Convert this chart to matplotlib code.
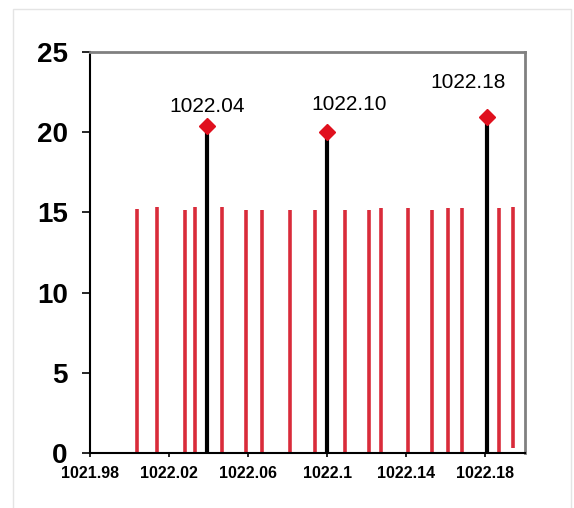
import matplotlib
matplotlib.use("Agg")
import matplotlib.pyplot as plt
from matplotlib.patches import Rectangle

plt.rcParams['font.family'] = ['Liberation Sans', 'DejaVu Sans']

# red stems (m/z, intensity)
red_x = [1022.004, 1022.014, 1022.028, 1022.033, 1022.047, 1022.059,
         1022.067, 1022.081, 1022.094, 1022.109, 1022.121, 1022.127,
         1022.141, 1022.153, 1022.161, 1022.168, 1022.187, 1022.194]
red_y = [15.2, 15.35, 15.15, 15.35, 15.35, 15.15,
         15.15, 15.15, 15.15, 15.15, 15.15, 15.25,
         15.25, 15.15, 15.25, 15.25, 15.25, 15.35]
red_base = [0, 0, 0, 0, 0, 0, 0, 0, 0, 0, 0, 0, 0, 0, 0, 0, 0, 0.3]

# black peaks with labels
peak_x = [1022.039, 1022.100, 1022.181]
peak_y = [20.4, 20.0, 20.95]
peak_labels = ["1022.04", "1022.10", "1022.18"]
label_offsets = [(0, 14), (16, 20), (-14, 25)]  # points

x_ticks = [1021.98, 1022.02, 1022.06, 1022.1, 1022.14, 1022.18]
x_ticklabels = ["1021.98", "1022.02", "1022.06", "1022.1", "1022.14", "1022.18"]
y_ticks = [0, 5, 10, 15, 20, 25]

RED = "#d92b3a"

fig = plt.figure(figsize=(5.74, 5.08), dpi=100)
fig.patches.append(Rectangle((13 / 574, -0.01), (571 - 13) / 574, (508 - 9) / 508 + 0.01,
                             transform=fig.transFigure, fill=False,
                             edgecolor="#e4e4e4", linewidth=1))
ax = fig.add_axes([90 / 574, 55 / 508, 435 / 574, 401 / 508])

ax.vlines(red_x, red_base, red_y, colors=RED, linewidth=2.6)
ax.vlines(peak_x, 0, peak_y, colors="black", linewidth=3)
ax.plot(peak_x, peak_y, linestyle="none", marker="D", markersize=8,
        color="#e0101e", zorder=3)

for x, y, lab, off in zip(peak_x, peak_y, peak_labels, label_offsets):
    ax.annotate(lab, (x, y), xytext=off, textcoords="offset points",
                ha="center", va="center", fontsize=15)

ax.set_xlim(1021.98, 1022.2)
ax.set_ylim(0, 25)
ax.set_xticks(x_ticks)
ax.set_xticklabels(x_ticklabels, fontsize=11.5, fontweight="bold")
ax.set_yticks(y_ticks)
ax.set_yticklabels([str(v) for v in y_ticks], fontsize=20, fontweight="bold")
ax.tick_params(axis="y", length=6, width=1.2, pad=10)
ax.tick_params(axis="x", length=3, width=1.2, pad=6)

ax.spines["left"].set_linewidth(1.5)
ax.spines["bottom"].set_linewidth(1.5)
for s in ["top", "right"]:
    ax.spines[s].set_color("#808080")
    ax.spines[s].set_linewidth(2)

fig.savefig("out.png", dpi=100)
